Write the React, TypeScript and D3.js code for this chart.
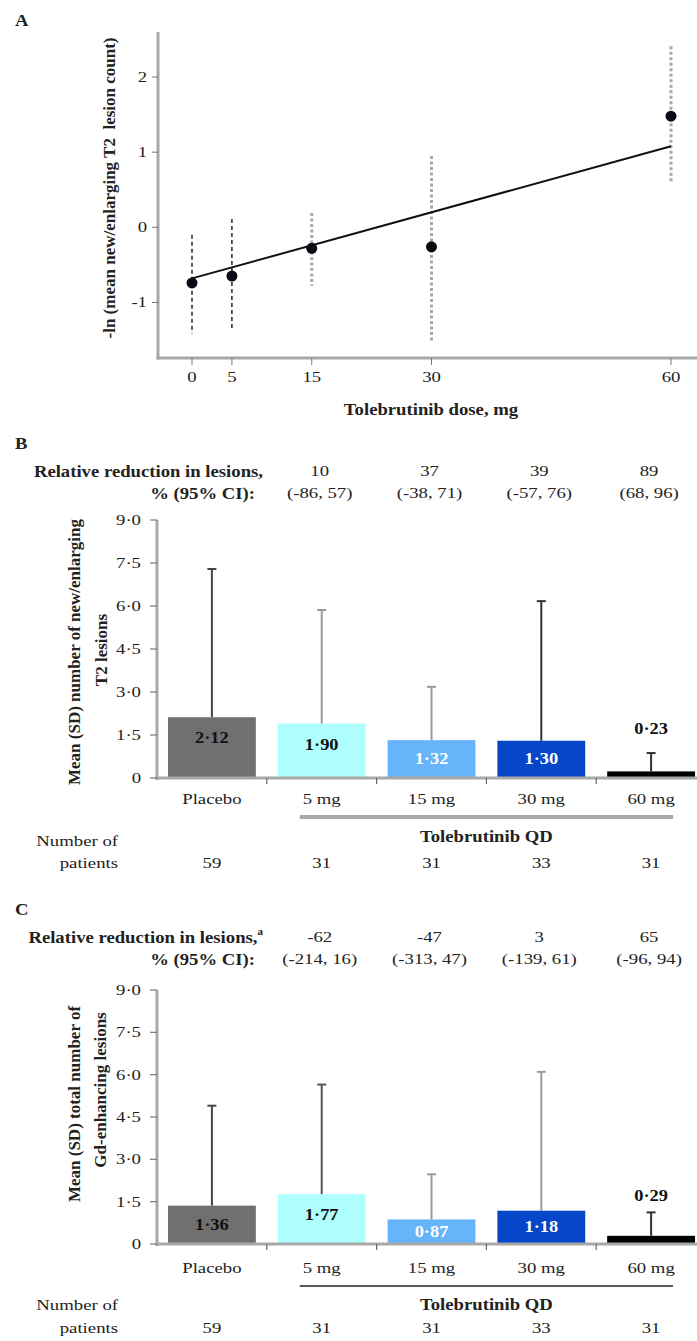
import React from "react";
import * as d3 from "d3";

// ---------- Panel A data ----------
const DOSES = [0, 5, 15, 30, 60];
const A_MEAN = [-0.74, -0.65, -0.28, -0.26, 1.48];
const A_LOW = [-1.41, -1.38, -0.78, -1.53, 0.58];
const A_HIGH = [-0.1, 0.11, 0.19, 0.95, 2.41];
const A_FIT = [
  { dose: 0, v: -0.68 },
  { dose: 60, v: 1.08 },
];
const A_YTICKS = [-1, 0, 1, 2];

// ---------- Panels B & C data ----------
const GROUPS = ["Placebo", "5 mg", "15 mg", "30 mg", "60 mg"];
const B_MEAN = [2.12, 1.9, 1.32, 1.3, 0.23];
const B_SD = [5.17, 3.96, 1.86, 4.87, 0.64];
const B_RR = ["10", "37", "39", "89"];
const B_CI = ["(-86, 57)", "(-38, 71)", "(-57, 76)", "(68, 96)"];
const C_MEAN = [1.36, 1.77, 0.87, 1.18, 0.29];
const C_SD = [3.54, 3.88, 1.6, 4.92, 0.83];
const C_RR = ["-62", "-47", "3", "65"];
const C_CI = ["(-214, 16)", "(-313, 47)", "(-139, 61)", "(-96, 94)"];
const N_PATIENTS = [59, 31, 31, 33, 31];
const BAR_TICKS = [0, 1.5, 3, 4.5, 6, 7.5, 9];
const BAR_TICK_LABELS = ["0", "1·5", "3·0", "4·5", "6·0", "7·5", "9·0"];

// ---------- styles ----------
const FONT = "'Liberation Serif', 'Times New Roman', serif";
const TXT = "#222";
const AXIS = "#a8a8a8";
const BAR_COLORS = ["#707070", "#b0ffff", "#66b4fa", "#0646c8", "#000000"];
const LABEL_COLORS = ["#111", "#111", "#ffffff", "#ffffff", "#111"];
const B_ERR_COLORS = ["#444", "#999", "#999", "#333", "#333"];
const C_ERR_COLORS = ["#444", "#555", "#9a9a9a", "#9a9a9a", "#333"];

type TProps = {
  x: number;
  y: number;
  anchor?: "start" | "middle" | "end";
  size?: number;
  bold?: boolean;
  sx?: number;
  fill?: string;
  children?: React.ReactNode;
};

function T({ x, y, anchor = "middle", size = 15, bold = false, sx, fill = TXT, children }: TProps) {
  const s = sx ?? (bold ? 1.1 : 1.25);
  return (
    <g transform={`translate(${x},${y}) scale(${s},1)`}>
      <text
        textAnchor={anchor}
        dominantBaseline="central"
        fontFamily={FONT}
        fontSize={size}
        fontWeight={bold ? "bold" : "normal"}
        fill={fill}
        style={{ whiteSpace: "pre" }}
      >
        {children}
      </text>
    </g>
  );
}

function VT({ x, y, size = 17, children }: { x: number; y: number; size?: number; children?: React.ReactNode }) {
  return (
    <g transform={`translate(${x},${y}) rotate(-90)`}>
      <text
        textAnchor="middle"
        dominantBaseline="central"
        fontFamily={FONT}
        fontSize={size}
        fontWeight="bold"
        fill={TXT}
        style={{ whiteSpace: "pre" }}
      >
        {children}
      </text>
    </g>
  );
}

function PanelA() {
  const x = d3.scaleLinear().domain([0, 60]).range([192, 671]);
  const y = d3.scaleLinear().domain([-1.74, 2.6]).range([358, 32]);
  const axisX = 158;
  const line = d3
    .line<{ dose: number; v: number }>()
    .x((d) => x(d.dose))
    .y((d) => y(d.v));
  return (
    <g>
      <T x={15} y={20} anchor="start" bold size={17}>A</T>
      <VT x={109} y={188}>-ln (mean new/enlarging T2  lesion count)</VT>
      {/* axes */}
      <line x1={axisX} x2={axisX} y1={y(2.6)} y2={y(-1.74) + 1.5} stroke={AXIS} strokeWidth={3} />
      <line x1={axisX - 1.5} x2={700} y1={y(-1.74)} y2={y(-1.74)} stroke={AXIS} strokeWidth={3} />
      {A_YTICKS.map((t) => (
        <g key={t}>
          <line x1={axisX - 6} x2={axisX} y1={y(t)} y2={y(t)} stroke="#777" strokeWidth={1} />
          <T x={147} y={y(t)} anchor="end">{String(t)}</T>
        </g>
      ))}
      {DOSES.map((dd) => (
        <g key={dd}>
          <line x1={x(dd)} x2={x(dd)} y1={y(-1.74)} y2={y(-1.74) + 7} stroke="#777" strokeWidth={1} />
          <T x={x(dd)} y={377}>{String(dd)}</T>
        </g>
      ))}
      <T x={431} y={409} bold size={17}>Tolebrutinib dose, mg</T>
      {/* error bars */}
      {DOSES.map((dd, i) => {
        const dark = i < 2;
        return (
          <line
            key={"e" + dd}
            x1={x(dd)}
            x2={x(dd)}
            y1={y(A_HIGH[i])}
            y2={y(A_LOW[i])}
            stroke={dark ? "#222" : "#a8a8a8"}
            strokeWidth={dark ? 1.5 : 3}
            strokeDasharray={dark ? "4,3" : "3,2.5"}
          />
        );
      })}
      <path d={line(A_FIT) || ""} stroke="#111" strokeWidth={2} fill="none" />
      {DOSES.map((dd, i) => (
        <circle key={"p" + dd} cx={x(dd)} cy={y(A_MEAN[i])} r={5.5} fill="#0a0a14" />
      ))}
    </g>
  );
}

type BarPanelProps = {
  letter: string;
  mean: number[];
  sd: number[];
  rr: string[];
  ci: string[];
  errColors: string[];
  sup: boolean;
  yTop: number;
  yZero: number;
  rows: { letter: number; rr: number; ci: number; cat: number; bracket: number; tqd: number; num: number; pat: number };
  yLabel: { text: string; x: number; y: number }[];
  bracketColor: string;
  bracketWidth: number;
};

function BarPanel(p: BarPanelProps) {
  const x = d3.scaleBand<string>().domain(GROUPS).range([157, 706]).paddingInner(0.2).paddingOuter(0.1);
  const y = d3.scaleLinear().domain([0, 9]).range([p.yZero, p.yTop]);
  const bw = x.bandwidth();
  const step = x.step();
  const fmt = (v: number) => d3.format(".2f")(v).replace(".", "·");
  const axisX = 157;
  return (
    <g>
      <T x={15} y={p.rows.letter} anchor="start" bold size={17}>{p.letter}</T>
      <T x={263} y={p.rows.rr} anchor="end" bold size={17}>
        {"Relative reduction in lesions,"}
        {p.sup ? (
          <tspan fontSize={10} dy={-6}>a</tspan>
        ) : null}
      </T>
      <T x={255} y={p.rows.ci} anchor="end" bold size={17}>% (95% CI):</T>
      {p.rr.map((r, i) => {
        const cx = (x(GROUPS[i + 1]) as number) + bw / 2;
        return (
          <g key={"rr" + i}>
            <T x={cx - 2} y={p.rows.rr}>{r}</T>
            <T x={cx - 2} y={p.rows.ci}>{p.ci[i]}</T>
          </g>
        );
      })}
      {p.yLabel.map((l, i) => (
        <VT key={"yl" + i} x={l.x} y={l.y}>{l.text}</VT>
      ))}
      {/* bars */}
      {GROUPS.map((g, i) => {
        const bx = x(g) as number;
        const top = y(p.mean[i]);
        return (
          <rect key={"b" + g} x={bx} y={top} width={bw} height={p.yZero - top} fill={BAR_COLORS[i]} />
        );
      })}
      {/* error bars */}
      {GROUPS.map((g, i) => {
        const cx = (x(g) as number) + bw / 2;
        const top = y(p.mean[i] + p.sd[i]);
        return (
          <g key={"e" + g}>
            <line x1={cx} x2={cx} y1={top} y2={y(p.mean[i])} stroke={p.errColors[i]} strokeWidth={2} />
            <line x1={cx - 4.5} x2={cx + 4.5} y1={top} y2={top} stroke={p.errColors[i]} strokeWidth={2} />
          </g>
        );
      })}
      {/* value labels */}
      {GROUPS.map((g, i) => {
        const cx = (x(g) as number) + bw / 2;
        const top = y(p.mean[i]);
        const mid = (top + p.yZero) / 2;
        const inside = p.yZero - top > 15;
        const ly = inside ? Math.min(top + 21, mid) : y(1.7);
        return (
          <T key={"l" + g} x={cx} y={ly} bold size={16} sx={1.15} fill={inside ? LABEL_COLORS[i] : "#111"}>
            {fmt(p.mean[i])}
          </T>
        );
      })}
      {/* axes */}
      <line x1={axisX} x2={axisX} y1={p.yTop} y2={p.yZero + 2} stroke={AXIS} strokeWidth={3} />
      <line x1={axisX - 1.5} x2={700} y1={p.yZero} y2={p.yZero} stroke={AXIS} strokeWidth={3} />
      {BAR_TICKS.map((t, i) => (
        <g key={"t" + t}>
          <line x1={axisX - 7} x2={axisX} y1={y(t)} y2={y(t)} stroke="#777" strokeWidth={1.2} />
          <T x={141} y={y(t)} anchor="end">{BAR_TICK_LABELS[i]}</T>
        </g>
      ))}
      {GROUPS.slice(1).map((g) => {
        const tx = (x(g) as number) - (step - bw) / 2;
        return <line key={"xt" + g} x1={tx} x2={tx} y1={p.yZero} y2={p.yZero + 6} stroke="#666" strokeWidth={1.2} />;
      })}
      {GROUPS.map((g) => (
        <T key={"c" + g} x={(x(g) as number) + bw / 2} y={p.rows.cat}>{g}</T>
      ))}
      <line
        x1={(x("5 mg") as number) + bw * 0.25}
        x2={(x("60 mg") as number) + bw * 0.75}
        y1={p.rows.bracket}
        y2={p.rows.bracket}
        stroke={p.bracketColor}
        strokeWidth={p.bracketWidth}
      />
      <T
        x={((x("15 mg") as number) + (x("30 mg") as number) + bw) / 2}
        y={p.rows.tqd}
        bold
        size={17}
      >
        Tolebrutinib QD
      </T>
      <T x={118} y={p.rows.num} anchor="end">Number of</T>
      <T x={118} y={p.rows.pat} anchor="end">patients</T>
      {GROUPS.map((g, i) => (
        <T key={"n" + g} x={(x(g) as number) + bw / 2} y={p.rows.pat}>{String(N_PATIENTS[i])}</T>
      ))}
    </g>
  );
}

export default function App() {
  return (
    <svg
      width={697}
      height={1341}
      viewBox="0 0 697 1341"
      style={{ position: "absolute", left: 0, top: 0, background: "#fff" }}
    >
      <rect x={0} y={0} width={697} height={1341} fill="#fff" />
      <PanelA />
      <BarPanel
        letter="B"
        mean={B_MEAN}
        sd={B_SD}
        rr={B_RR}
        ci={B_CI}
        errColors={B_ERR_COLORS}
        sup={false}
        yTop={520}
        yZero={778}
        rows={{ letter: 443, rr: 471, ci: 493, cat: 799, bracket: 817, tqd: 836, num: 841, pat: 863 }}
        yLabel={[
          { text: "Mean (SD) number of new/enlarging", x: 74, y: 652 },
          { text: "T2 lesions", x: 101, y: 650 },
        ]}
        bracketColor="#a8a8a8"
        bracketWidth={4}
      />
      <BarPanel
        letter="C"
        mean={C_MEAN}
        sd={C_SD}
        rr={C_RR}
        ci={C_CI}
        errColors={C_ERR_COLORS}
        sup={true}
        yTop={990}
        yZero={1244}
        rows={{ letter: 909, rr: 937, ci: 959, cat: 1268, bracket: 1286, tqd: 1304, num: 1305, pat: 1328 }}
        yLabel={[
          { text: "Mean (SD) total number of", x: 74, y: 1104 },
          { text: "Gd-enhancing lesions", x: 100, y: 1090 },
        ]}
        bracketColor="#222"
        bracketWidth={1.5}
      />
    </svg>
  );
}
